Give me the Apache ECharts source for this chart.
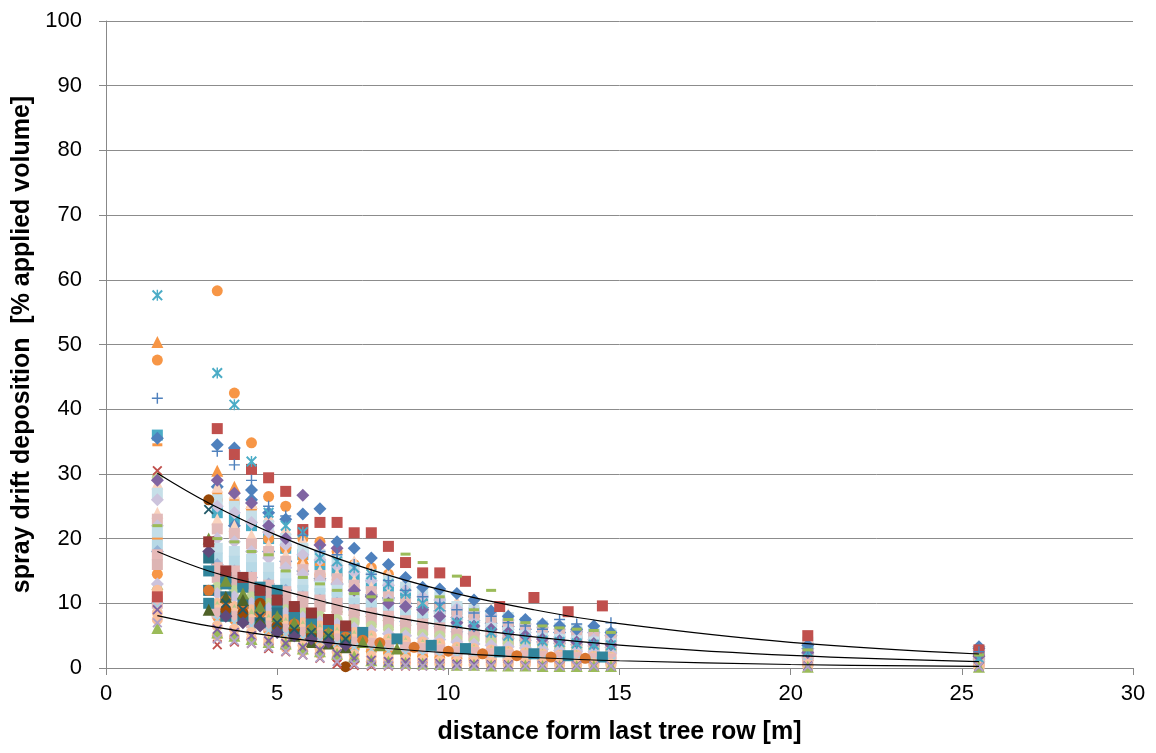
<!DOCTYPE html>
<html>
<head>
<meta charset="utf-8">
<script src="https://cdn.jsdelivr.net/npm/echarts@6/dist/echarts.min.js"></script>
<style>
  html, body { margin: 0; padding: 0; background: #fff; }
  #chart { width: 1156px; height: 753px; }
</style>
</head>
<body>
<div id="chart"></div>
<script>
// distances [m] of the sampling columns
const distMain = [1.5, 3.25, 3.75, 4.25, 4.75, 5.25, 5.75, 6.25, 6.75, 7.25, 7.75, 8.25, 8.75, 9.25, 9.75,
  10.25, 10.75, 11.25, 11.75, 12.25, 12.75, 13.25, 13.75, 14.25, 14.75, 20.5, 25.5];
const distAlt = [3.0, 3.5, 4.0, 4.5, 5.0, 5.5, 6.0, 6.5, 7.0, 7.5, 8.0, 8.5, 9.0, 9.5, 10.0,
  10.5, 11.0, 11.5, 12.0, 12.5, 13.0, 13.5, 14.0, 14.5];

// deposition values [% applied volume], one array per series (main grid)
const blueDiamond = [35.5, 34.5, 34.0, 27.5, 24.0, 23.0, 23.8, 24.6, 19.5, 18.5, 17.0, 16.0, 14.0, 12.5, 12.2, 11.5, 10.5, 8.8, 8.0, 7.5, 6.8, 6.5, 6.0, 6.5, 5.5, 3.5, 3.0];
const blueDiamond2 = [10.0, 28.0, 22.0, 26.0, 18.0, 16.5, 15.0, 13.8, 13.0, 12.0, 11.3, 10.8, 10.0, 9.3, 8.8, 7.8, 7.3, 6.9, 6.4, 6.0, 5.6, 5.5, 5.6, 5.5, 5.0, 3.0, 3.3];
const purpleDiamond = [29.0, 29.0, 27.0, 25.5, 22.0, 20.0, 26.7, 19.0, 18.5, 12.0, 11.0, 10.0, 9.5, 9.0, 8.0, 7.0, 6.5, 6.0, 5.5, 5.0, 4.5, 4.2, 4.0, 3.8, 3.6, 2.4, 1.8];
const redSquare = [11.0, 37.0, 33.0, 30.7, 29.4, 27.3, 21.4, 22.5, 22.5, 20.9, 20.9, 18.8, 16.3, 14.7, 14.7, null, null, null, null, null, null, null, null, null, null, 5.0, 2.8];
const greenTriangle = [6.2, 5.5, 5.0, 4.5, 4.0, 3.8, 3.0, 2.6, 2.2, 1.8, 1.2, 1.0, 0.8, 0.7, 0.6, 0.5, 0.5, 0.4, 0.4, 0.4, 0.3, 0.3, 0.3, 0.3, 0.3, 0.2, 0.2];
const greenTriangle2 = [13.0, 15.0, 13.0, 12.5, 12.0, 11.0, 10.0, 14.5, 9.5, 9.0, 8.8, 8.2, 7.5, 8.5, 7.0, 6.8, 6.0, 5.8, 5.3, 4.9, 4.6, 4.2, 4.0, 3.8, 3.6, 2.4, 1.6];
const purpleX = [9.0, 6.0, 5.5, 5.0, 4.2, 3.8, 3.2, 2.8, 2.2, 1.5, 1.2, 1.0, 0.9, 0.8, 0.7, 0.6, 0.6, 0.5, 0.5, 0.4, 0.4, 0.4, 0.4, 0.3, 0.3, 0.3, 0.2];
const tealStar = [57.6, 45.6, 40.7, 31.9, 24.0, 22.0, 21.0, 17.0, 16.5, 15.5, 14.5, 13.0, 11.5, 10.0, 9.5, 7.0, 6.5, 5.5, 5.0, 4.5, 4.2, 4.0, 3.8, 3.6, 3.5, 2.5, 1.5];
const orangeCircle = [47.6, 58.3, 42.5, 34.8, 26.5, 25.0, 20.0, 19.5, 18.0, 16.0, 15.5, 14.5, 12.5, 11.0, 10.0, 9.0, 8.0, 7.0, 6.5, 6.0, 5.5, 5.0, 4.8, 4.5, 4.2, 2.5, 1.8];
const orangeCircle2 = [20.0, 26.0, 25.5, 24.5, 20.0, 18.5, 16.0, 14.5, 12.0, 11.5, 10.5, 9.8, 9.0, 8.5, 7.5, 7.0, 6.5, 6.0, 5.6, 5.2, 4.8, 4.6, 4.4, 4.2, 4.0, 2.6, 1.9];
const orangeCircle3 = [14.5, 8.0, 7.5, 6.8, 5.8, 5.2, 4.5, 4.0, 3.5, 3.0, 2.6, 2.3, 2.0, 1.8, 1.6, 1.5, 1.4, 1.3, 1.2, 1.1, 1.0, 1.0, 0.9, 0.9, 0.9, 0.6, 0.4];
const orangeTriangle = [50.4, 30.5, 28.0, 25.5, 22.0, 19.5, 17.0, 15.0, 14.0, 13.0, 12.0, 11.0, 10.0, 9.5, 9.0, 8.0, 7.2, 6.5, 6.0, 5.5, 5.0, 4.8, 4.5, 4.4, 4.2, 2.0, 1.5];
const bluePlus = [41.7, 33.5, 31.4, 29.0, 25.0, 23.5, 20.5, 18.0, 17.5, 16.0, 14.5, 13.5, 12.0, 11.0, 10.0, 9.0, 8.5, 8.0, 7.0, 6.5, 6.0, 7.5, 6.8, 6.5, 7.0, 3.0, 2.5];
const orangeDash = [34.5, 27.0, 26.0, 24.0, 21.0, 19.0, 17.0, 16.0, 14.0, 12.5, 11.5, 10.5, 9.5, 8.5, 8.0, 7.0, 6.5, 6.0, 5.5, 5.0, 4.8, 4.5, 4.2, 4.0, 3.8, 2.0, 1.5];
const greenDash = [22.0, 20.0, 19.5, 18.0, 17.5, 15.0, 14.0, 13.0, 12.0, 11.5, 11.0, 10.5, 17.6, 16.3, 11.0, 14.2, 9.0, 12.0, 7.5, 7.0, 6.5, 6.2, 6.0, 5.8, 5.5, 2.8, 2.0];
const tealSquare = [36.0, 24.0, 23.0, 22.0, 20.0, 18.5, 17.5, 16.0, 15.0, 14.0, 13.0, 12.5, 11.5, 10.5, 10.0, 9.0, 8.5, 8.0, 7.0, 6.5, 6.0, 5.8, 5.5, 5.2, 5.0, 3.2, 2.4];
const paleBlueSquare = [27.0, 26.0, 25.0, 23.5, 22.0, 20.0, 18.5, 17.5, 16.5, 15.5, 14.0, 13.5, 12.5, 11.5, 11.0, 9.5, 9.0, 8.5, 7.8, 7.0, 6.5, 6.2, 6.0, 5.6, 5.3, 4.0, 2.6];
const peachTriangle = [24.0, 23.0, 22.0, 20.5, 19.0, 17.5, 16.0, 15.0, 14.5, 13.5, 12.5, 11.5, 11.0, 10.0, 9.5, 8.5, 8.0, 7.5, 6.8, 6.2, 5.8, 5.5, 5.3, 5.0, 4.8, 3.5, 2.5];
const peachTriangle2 = [28.5, 28.0, 27.0, 25.5, 23.5, 21.5, 19.8, 18.8, 17.8, 16.5, 15.3, 14.5, 13.5, 12.5, 11.8, 10.3, 9.8, 9.1, 8.3, 7.5, 7.0, 6.6, 6.4, 6.0, 5.6, 4.5, 2.9];
const lavenderDiamond = [22.0, 20.0, 19.5, 18.0, 17.0, 15.5, 14.5, 13.5, 13.0, 12.0, 11.0, 10.5, 9.5, 9.0, 8.5, 7.5, 7.0, 6.5, 6.0, 5.5, 5.0, 4.8, 4.6, 4.4, 4.2, 3.0, 2.0];
const lavenderDiamond2 = [13.0, 11.5, 11.0, 10.0, 9.2, 8.5, 7.8, 7.2, 6.8, 6.2, 5.8, 5.3, 5.0, 4.6, 4.4, 4.0, 3.7, 3.5, 3.3, 3.1, 2.9, 2.7, 2.6, 2.5, 2.3, 1.6, 1.0];
const lavenderDiamond3 = [26.0, 25.0, 24.0, 22.5, 21.0, 19.0, 17.5, 16.7, 15.8, 14.8, 13.5, 12.8, 12.0, 11.0, 10.5, 9.2, 8.7, 8.2, 7.4, 6.8, 6.3, 6.0, 5.8, 5.4, 5.1, 3.8, 2.7];
const lightBlueSquare = [19.0, 17.0, 16.5, 15.5, 14.0, 13.0, 12.0, 11.5, 11.0, 10.0, 9.5, 9.0, 8.0, 7.5, 7.0, 6.0, 6.0, 5.5, 5.0, 4.5, 4.0, 4.0, 3.8, 3.6, 3.3, 2.5, 1.5];
const lightBlueSquare2 = [21.0, 18.5, 18.0, 16.8, 15.5, 14.3, 13.2, 12.6, 12.0, 11.0, 10.3, 9.8, 9.0, 8.3, 7.8, 6.8, 6.5, 6.1, 5.5, 5.0, 4.6, 4.4, 4.2, 4.0, 3.7, 2.8, 1.8];
const midBlueDiamond = [18.0, 16.0, 15.0, 14.0, 13.0, 12.0, 11.0, 10.5, 10.0, 9.0, 8.5, 8.0, 7.2, 6.8, 6.4, 5.6, 5.3, 5.0, 4.6, 4.3, 4.0, 3.8, 3.6, 3.4, 3.2, 2.2, 1.4];
const pinkSquare = [16.0, 14.0, 13.5, 12.5, 11.5, 10.5, 10.0, 9.5, 9.0, 8.0, 7.5, 7.0, 6.5, 6.0, 5.5, 5.0, 5.0, 4.5, 4.2, 4.0, 3.5, 3.3, 3.2, 3.0, 2.8, 2.0, 1.2];
const pinkSquare2 = [10.0, 8.5, 8.0, 7.0, 6.5, 6.0, 5.5, 5.0, 4.5, 4.0, 3.8, 3.5, 3.2, 3.0, 2.8, 2.5, 2.4, 2.2, 2.0, 1.9, 1.8, 1.7, 1.6, 1.5, 1.4, 1.0, 0.6];
const pinkSquare3 = [23.0, 21.5, 20.8, 19.2, 18.0, 16.5, 15.2, 14.3, 13.8, 12.8, 11.8, 11.0, 10.2, 9.5, 9.0, 8.0, 7.5, 7.0, 6.4, 5.8, 5.4, 5.2, 5.0, 4.7, 4.5, 3.3, 2.2];
const pinkSquare4 = [17.5, 15.5, 15.0, 14.0, 12.8, 11.8, 11.0, 10.5, 10.0, 9.0, 8.5, 8.0, 7.3, 6.8, 6.2, 5.5, 5.2, 4.8, 4.5, 4.2, 3.8, 3.6, 3.5, 3.3, 3.1, 2.3, 1.4];
const lightGreenCircle = [29.5, 12.5, 12.0, 11.0, 10.0, 9.0, 8.5, 8.0, 7.5, 7.0, 6.5, 6.0, 5.5, 5.2, 5.0, 4.5, 4.2, 4.0, 3.8, 3.5, 3.2, 3.0, 2.9, 2.8, 2.6, 1.8, 1.1];
const lightGreenTriangle = [10.8, 9.5, 9.0, 8.3, 7.5, 7.0, 6.5, 6.0, 5.5, 5.0, 4.6, 4.2, 3.9, 3.6, 3.4, 2.9, 2.8, 2.6, 2.4, 2.2, 2.1, 1.9, 1.9, 1.7, 1.6, 1.2, 0.8];
const peachCircle = [12.0, 10.0, 9.5, 9.0, 8.0, 7.5, 7.0, 6.5, 6.0, 5.5, 5.0, 4.5, 4.2, 4.0, 3.8, 3.2, 3.0, 2.8, 2.6, 2.4, 2.2, 2.0, 2.0, 1.8, 1.7, 1.2, 0.8];
const peachCircle2 = [8.5, 6.5, 6.0, 5.5, 4.5, 4.0, 3.5, 3.0, 2.5, 2.0, 1.8, 1.5, 1.3, 1.2, 1.1, 1.0, 1.0, 0.9, 0.9, 0.8, 0.8, 0.7, 0.7, 0.7, 0.6, 0.5, 0.3];
const peachCircle3 = [11.0, 9.0, 8.5, 7.5, 7.0, 6.5, 6.0, 5.5, 5.0, 4.5, 4.2, 3.8, 3.5, 3.2, 3.0, 2.6, 2.5, 2.3, 2.2, 2.0, 1.9, 1.8, 1.7, 1.6, 1.5, 1.1, 0.7];
const peachCircle4 = [7.5, 5.0, 4.8, 4.5, 3.8, 3.2, 2.6, 2.2, 1.6, 1.2, 1.0, 0.8, 0.7, 0.6, 0.6, 0.5, 0.5, 0.5, 0.5, 0.5, 0.4, 0.4, 0.4, 0.4, 0.4, 0.3, 0.2];
const paleBlueX = [9.5, 7.5, 7.0, 6.5, 5.8, 5.2, 4.6, 4.2, 3.8, 3.2, 2.9, 2.6, 2.3, 2.1, 1.9, 1.8, 1.7, 1.6, 1.5, 1.4, 1.3, 1.2, 1.2, 1.1, 1.0, 0.8, 0.5];
const lavenderX = [7.0, 4.5, 4.2, 3.8, 3.2, 2.6, 2.0, 1.6, 1.0, 0.6, 0.5, 0.4, 0.4, 0.3, 0.3, 0.3, 0.3, 0.3, 0.3, 0.3, 0.3, 0.3, 0.3, 0.3, 0.3, 0.2, 0.2];
const redX = [30.5, 3.6, 4.0, 3.8, 3.0, 2.5, 2.0, 1.5, 0.6, 0.4, 0.3, 0.3, 0.3, 0.3, 0.3, 0.3, 0.3, 0.3, 0.3, 0.3, 0.3, 0.3, 0.3, 0.3, 0.3, 0.2, 0.2];

// series sampled on the alternate grid
const redSquareAlt = [null, null, null, null, null, null, null, null, null, null, null, null, null, null, null, 13.4, null, 9.5, null, 10.9, null, 8.7, null, 9.6];
const darkTealSquare = [15.0, 13.0, 12.5, 11.0, 10.0, 9.0, 8.0, 7.0, 6.0, 5.5, null, 4.5, null, 3.5, null, 3.0, null, 2.5, null, 2.2, null, 1.9, null, 1.7];
const darkTealSquare2 = [12.0, 11.0, 10.0, 9.0, 8.5, 7.5, 6.5, 6.0, 5.0, null, null, null, null, null, null, null, null, null, null, null, null, null, null, null];
const darkTealSquare3 = [10.0, 14.0, 13.0, 12.5, 12.0, 8.0, 7.0, 6.5, 5.5, null, null, null, null, null, null, null, null, null, null, null, null, null, null, null];
const darkTealSquare4 = [17.0, 8.0, 7.5, 7.0, 6.0, 5.5, 5.0, 4.8, 4.2, null, null, null, null, null, null, null, null, null, null, null, null, null, null, null];
const darkBrownCircle = [26.0, 9.0, 8.5, 10.0, 6.5, 6.0, 5.0, 4.5, 0.2, null, null, null, null, null, null, null, null, null, null, null, null, null, null, null];
const darkOrangeCircle = [12.0, 10.5, 9.5, 8.5, 7.5, 6.8, 6.0, 5.3, 4.8, 4.3, 3.9, null, 3.2, null, 2.6, null, 2.2, null, 1.9, null, 1.7, null, 1.5, null];
const darkOliveTriangle = [20.0, 13.5, 11.5, 9.5, 8.0, 7.0, 6.3, 5.5, 4.5, 4.0, 3.5, 3.0, null, null, null, null, null, null, null, null, null, null, null, null];
const darkOliveTriangle2 = [9.0, 11.0, 10.5, 7.5, 6.0, 5.0, 4.0, 3.8, 3.2, null, null, null, null, null, null, null, null, null, null, null, null, null, null, null];
const darkPurpleDiamond = [18.0, 8.0, 7.0, 6.5, 5.5, 5.0, 4.5, 4.0, 3.5, null, null, null, null, null, null, null, null, null, null, null, null, null, null, null];
const darkRedSquare = [19.5, 15.0, 14.0, 12.0, 10.5, 9.5, 8.5, 7.5, 6.5, null, null, null, null, null, null, null, null, null, null, null, null, null, null, null];
const darkTealX = [24.5, 10.0, 9.0, 8.0, 7.0, 6.0, 5.5, 5.0, 4.5, null, null, null, null, null, null, null, null, null, null, null, null, null, null, null];

// trend lines
const trendX = [1.5, 3, 5, 7.5, 10, 12.5, 15, 20, 25.5];
const trendHigh = [30.1, 25.5, 20.5, 15.6, 11.8, 9.0, 6.85, 3.96, 2.16];
const trendMid = [18.0, 15.0, 12.2, 8.8, 6.5, 4.8, 3.55, 1.94, 1.0];
const trendLow = [8.1, 6.5, 4.85, 3.36, 2.33, 1.62, 1.12, 0.54, 0.25];

const SYM = {
  diamond: 'diamond',
  square: 'rect',
  triangle: 'triangle',
  circle: 'circle',
  x: 'path://M1.3,0L5,3.7L8.7,0L10,1.3L6.3,5L10,8.7L8.7,10L5,6.3L1.3,10L0,8.7L3.7,5L0,1.3Z',
  star: 'path://M1.3,0L5,3.7L8.7,0L10,1.3L6.3,5L10,8.7L8.7,10L5,6.3L1.3,10L0,8.7L3.7,5L0,1.3Z M4.35,0H5.65V10H4.35Z',
  plus: 'path://M4.35,0H5.65V4.35H10V5.65H5.65V10H4.35V5.65H0V4.35H4.35Z',
  dash: 'path://M0,0H10V10H0Z'
};
const SIZE = { diamond: 13, square: 11, triangle: 12, circle: 11, x: 10, star: 11, plus: 11, dash: [10, 3] };

// [values, distances, colour, marker] in drawing order
const seriesDefs = [
  // strong colours inside the columns (mostly hidden)
  [tealSquare, distMain, '#4BACC6', 'square'],
  [orangeCircle, distMain, '#F79646', 'circle'],
  [orangeTriangle, distMain, '#F79646', 'triangle'],
  [orangeCircle2, distMain, '#F79646', 'circle'],
  [blueDiamond2, distMain, '#4F81BD', 'diamond'],
  [greenTriangle2, distMain, '#9BBB59', 'triangle'],
  [orangeDash, distMain, '#F79646', 'dash'],
  [orangeCircle3, distMain, '#F79646', 'circle'],
  // pale body
  [peachTriangle2, distMain, '#FAD3BE', 'triangle'],
  [paleBlueSquare, distMain, '#C6DFE8', 'square'],
  [lavenderDiamond3, distMain, '#CCC3DC', 'diamond'],
  [peachTriangle, distMain, '#FAD3BE', 'triangle'],
  [pinkSquare3, distMain, '#E2BAB9', 'square'],
  [lavenderDiamond, distMain, '#CCC3DC', 'diamond'],
  [lightBlueSquare2, distMain, '#C3DEE8', 'square'],
  [lightBlueSquare, distMain, '#B7D9E6', 'square'],
  [midBlueDiamond, distMain, '#95B3D7', 'diamond'],
  [pinkSquare4, distMain, '#E6B9B8', 'square'],
  [pinkSquare, distMain, '#DDB5B4', 'square'],
  [lightGreenCircle, distMain, '#C3D69B', 'circle'],
  [lavenderDiamond2, distMain, '#CCC3DC', 'diamond'],
  [peachCircle, distMain, '#F9BE9A', 'circle'],
  [lightGreenTriangle, distMain, '#B9CE8E', 'triangle'],
  [peachCircle3, distMain, '#FBC6A6', 'circle'],
  [pinkSquare2, distMain, '#E6B9B8', 'square'],
  [paleBlueX, distMain, '#A9CFE0', 'x'],
  [peachCircle2, distMain, '#FBC3A0', 'circle'],
  // dark cluster between the columns
  [darkTealSquare, distAlt, '#31859C', 'square'],
  [darkTealSquare2, distAlt, '#2A7285', 'square'],
  [darkTealSquare3, distAlt, '#31859C', 'square'],
  [darkTealSquare4, distAlt, '#2A7285', 'square'],
  [darkOrangeCircle, distAlt, '#D9762E', 'circle'],
  [darkBrownCircle, distAlt, '#984807', 'circle'],
  [darkOliveTriangle, distAlt, '#77933C', 'triangle'],
  [darkOliveTriangle2, distAlt, '#4F6228', 'triangle'],
  [darkPurpleDiamond, distAlt, '#604A7B', 'diamond'],
  [darkRedSquare, distAlt, '#953735', 'square'],
  [darkTealX, distAlt, '#215968', 'x'],
  // column tops
  [purpleDiamond, distMain, '#8064A2', 'diamond'],
  [blueDiamond, distMain, '#4F81BD', 'diamond'],
  [redSquare, distMain, '#C0504D', 'square'],
  [redSquareAlt, distAlt, '#C0504D', 'square'],
  [tealStar, distMain, '#4BACC6', 'star'],
  [bluePlus, distMain, '#4F81BD', 'plus'],
  [greenDash, distMain, '#9BBB59', 'dash'],
  // bottom row
  [peachCircle4, distMain, '#F9BE9A', 'circle'],
  [redX, distMain, '#C0504D', 'x'],
  [greenTriangle, distMain, '#9BBB59', 'triangle'],
  [purpleX, distMain, '#8064A2', 'x'],
  [lavenderX, distMain, '#B3A2C7', 'x']
];

const scatterSeries = seriesDefs.map(([vals, dist, color, mk], i) => ({
  name: 's' + (i + 1),
  type: 'scatter',
  data: vals.map((v, j) => (v == null ? null : [dist[j], v])).filter(d => d),
  symbol: SYM[mk],
  symbolSize: SIZE[mk],
  itemStyle: { color: color, opacity: 1 },
  emphasis: { disabled: true },
  silent: true,
  z: 2
}));

const trendSeries = [trendHigh, trendMid, trendLow].map((vals, i) => ({
  name: 'trend' + (i + 1),
  type: 'line',
  data: vals.map((v, j) => [trendX[j], v]),
  smooth: 0.4,
  showSymbol: false,
  silent: true,
  lineStyle: { color: '#000', width: 1.2 },
  z: 5
}));

const chart = echarts.init(document.getElementById('chart'));
chart.setOption({
  animation: false,
  backgroundColor: '#fff',
  textStyle: { fontFamily: 'Liberation Sans, Arial, sans-serif' },
  grid: { left: 106, right: 23, top: 21, bottom: 85, containLabel: false },
  xAxis: {
    type: 'value', min: 0, max: 30, interval: 5,
    name: 'distance form last tree row [m]',
    nameLocation: 'middle', nameGap: 52,
    nameTextStyle: { fontSize: 25, fontWeight: 'bold', color: '#000' },
    axisLine: { show: true, lineStyle: { color: '#888', width: 1 } },
    axisTick: { show: true, length: 7, lineStyle: { color: '#888' } },
    axisLabel: { fontSize: 22, color: '#000', margin: 15 },
    splitLine: { show: false }
  },
  yAxis: {
    type: 'value', min: 0, max: 100, interval: 10,
    name: 'spray drift deposition  [% applied volume]',
    nameLocation: 'middle', nameGap: 71,
    nameTextStyle: { fontSize: 25, fontWeight: 'bold', color: '#000' },
    axisLine: { show: true, lineStyle: { color: '#888', width: 1 } },
    axisTick: { show: true, length: 7, lineStyle: { color: '#888' } },
    axisLabel: { fontSize: 22, color: '#000', margin: 24 },
    splitLine: { show: true, lineStyle: { color: '#8c8c8c', width: 1 } }
  },
  series: scatterSeries.concat(trendSeries)
});
</script>
</body>
</html>
